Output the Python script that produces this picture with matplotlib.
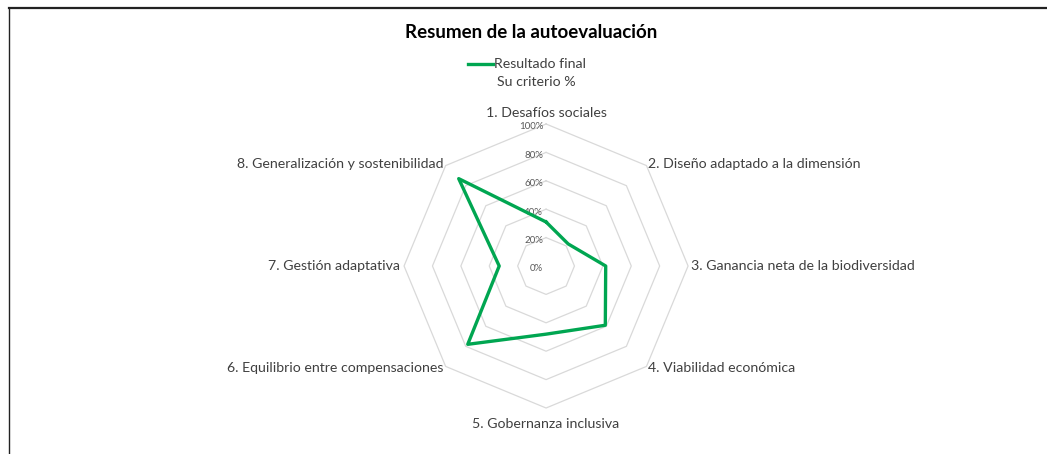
import numpy as np
import matplotlib.pyplot as plt
from matplotlib.lines import Line2D
from matplotlib.transforms import offset_copy

# Datos del gráfico radar
categorias = ["1. Desafíos sociales", "2. Diseño adaptado a la dimensión",
              "3. Ganancia neta de la biodiversidad", "4. Viabilidad económica",
              "5. Gobernanza inclusiva", "6. Equilibrio entre compensaciones",
              "7. Gestión adaptativa", "8. Generalización y sostenibilidad"]
resultado_final = [31, 22, 42, 59, 48, 78, 33, 87]
niveles = [0, 20, 40, 60, 80, 100]
etiquetas_niveles = ["0%", "20%", "40%", "60%", "80%", "100%"]

plt.rcParams['font.family'] = ['Lato', 'DejaVu Sans']

fig = plt.figure(figsize=(10.47, 4.54), dpi=100)
ax = fig.add_axes([0.3859, 0.1013, 0.2713, 0.6256], projection='polar')
ax.set_theta_zero_location('N')
ax.set_theta_direction(-1)
ax.set_ylim(0, 100)
ax.set_xticks([])
ax.set_yticks([])
ax.grid(False)
ax.spines['polar'].set_visible(False)
ax.patch.set_alpha(0)

n = len(categorias)
angulos = np.linspace(0, 2 * np.pi, n, endpoint=False)
ang_cerrado = np.append(angulos, angulos[0])

# anillos octogonales
for nv in niveles[1:]:
    ax.plot(ang_cerrado, [nv] * (n + 1), color='#d9d9d9', lw=0.9, clip_on=False, zorder=1)

# serie
vals = resultado_final + resultado_final[:1]
ax.plot(ang_cerrado, vals, color='#00a651', lw=2.4, clip_on=False, zorder=3)

# etiquetas de niveles
trans_niv = offset_copy(ax.transData, fig=fig, x=-3, y=-3, units='dots')
for nv, et in zip(niveles, etiquetas_niveles):
    ax.text(0, nv, et, transform=trans_niv, ha='right', va='center',
            fontsize=7, color='#595959', zorder=2)

# etiquetas de categorías
pos = [(108, 'center', 'center'), (102, 'left', 'center'), (102, 'left', 'center'),
       (102, 'left', 'center'), (111, 'center', 'center'), (102, 'right', 'center'),
       (103, 'right', 'center'), (102, 'right', 'center')]
for a, cat, (r, ha, va) in zip(angulos, categorias, pos):
    ax.text(a, r, cat, ha=ha, va=va, fontsize=10.2, color='#404040', clip_on=False)

# título y leyenda
fig.text(531 / 1047, 1 - 32 / 454, "Resumen de la autoevaluación", ha='center', va='center',
         fontsize=13.5, fontweight='bold', color='#000000')
fig.add_artist(Line2D([468 / 1047, 493 / 1047], [1 - 64 / 454, 1 - 64 / 454],
                      color='#00a651', lw=2.4))
fig.text(494 / 1047, 1 - 64 / 454, "Resultado final", ha='left', va='center',
         fontsize=10.2, color='#404040')
fig.text(497 / 1047, 1 - 82 / 454, "Su criterio %", ha='left', va='center',
         fontsize=10.2, color='#404040')

# marco
fig.add_artist(Line2D([9 / 1047, 1], [1 - 8 / 454, 1 - 8 / 454], color='#222222', lw=1.6))
fig.add_artist(Line2D([9 / 1047, 9 / 1047], [0, 1 - 8 / 454], color='#222222', lw=1.0))

fig.savefig('out.png', dpi=100)
